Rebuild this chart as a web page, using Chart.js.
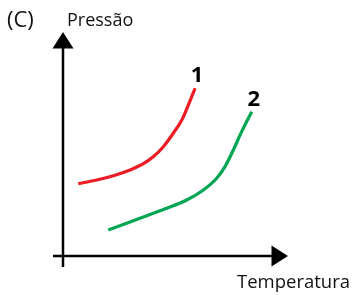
<!DOCTYPE html>
<html><head><meta charset="utf-8">
<script src="https://cdn.jsdelivr.net/npm/chart.js@4/dist/chart.umd.min.js"></script>
<style>html,body{margin:0;padding:0;background:#fff}#wrap{width:353px;height:295px;position:relative}</style>
</head><body><div id="wrap"><canvas id="c" width="353" height="295"></canvas></div>
<script>
// Temperature / pressure values (arbitrary units, origin at axis crossing)
const curve1T = [6.8, 15.0, 22.4, 29.8, 35.7, 40.1, 44.6, 49.0, 52.8, 55.7, 58.7];
const curve1P = [32.3, 33.9, 35.8, 38.4, 41.2, 44.3, 48.8, 54.8, 60.7, 67.4, 74.9];
const curve2T = [20.1, 28.3, 37.2, 46.1, 55.0, 62.4, 68.3, 72.0, 75.7, 79.4, 83.9];
const curve2P = [11.6, 14.6, 18.0, 21.3, 25.0, 29.5, 34.7, 39.9, 47.3, 55.5, 64.4];
const seriesLabels = ['1', '2'];
const xTitle = 'Temperatura';
const yTitle = 'Pressão';
const panelLabel = '(C)';

const FONT = '"Open Sans", "Noto Sans", sans-serif';

const axesPlugin = {
  id: 'axesArrows',
  afterDatasetsDraw(chart) {
    const ctx = chart.ctx, xs = chart.scales.x, ys = chart.scales.y;
    const x0 = xs.getPixelForValue(0), y0 = ys.getPixelForValue(0);
    const xEnd = xs.getPixelForValue(100), yEnd = ys.getPixelForValue(100);
    ctx.save();
    ctx.strokeStyle = '#000'; ctx.fillStyle = '#000'; ctx.lineWidth = 2.5;
    // y axis
    ctx.beginPath(); ctx.moveTo(x0, y0 + 11); ctx.lineTo(x0, yEnd + 14); ctx.stroke();
    ctx.beginPath(); ctx.moveTo(x0, yEnd); ctx.lineTo(x0 - 10.5, yEnd + 16.5); ctx.lineTo(x0 + 10.5, yEnd + 16.5); ctx.closePath(); ctx.fill();
    // x axis
    ctx.beginPath(); ctx.moveTo(x0 - 10, y0); ctx.lineTo(xEnd - 14, y0); ctx.stroke();
    ctx.beginPath(); ctx.moveTo(xEnd, y0); ctx.lineTo(xEnd - 16.5, y0 - 10.5); ctx.lineTo(xEnd - 16.5, y0 + 10.5); ctx.closePath(); ctx.fill();
    // texts
    ctx.textBaseline = 'alphabetic';
    ctx.fillStyle = '#111';
    ctx.font = '22px ' + FONT; ctx.textAlign = 'left';
    ctx.fillText(panelLabel, 7, 27);
    ctx.font = '18px ' + FONT;
    ctx.fillText(yTitle, 67, 26);
    ctx.font = '18.5px ' + FONT;
    ctx.fillText(xTitle, 237, 288);
    // series labels near curve ends
    ctx.fillStyle = '#000';
    ctx.font = 'bold 22px ' + FONT; ctx.textAlign = 'center';
    chart.data.datasets.forEach((ds, i) => {
      const meta = chart.getDatasetMeta(i);
      const last = meta.data[meta.data.length - 1];
      ctx.fillText(seriesLabels[i], last.x + 2, last.y - 6);
    });
    ctx.restore();
  }
};

new Chart(document.getElementById('c'), {
  type: 'line',
  data: {
    datasets: [
      { label: seriesLabels[0], data: curve1T.map((t, i) => ({x: t, y: curve1P[i]})), borderColor: '#ed1c24', borderWidth: 3.2, pointRadius: 0, cubicInterpolationMode: 'monotone', fill: false },
      { label: seriesLabels[1], data: curve2T.map((t, i) => ({x: t, y: curve2P[i]})), borderColor: '#00a651', borderWidth: 3.2, pointRadius: 0, cubicInterpolationMode: 'monotone', fill: false }
    ]
  },
  options: {
    responsive: false, animation: false, devicePixelRatio: 1,
    layout: { padding: { left: 63, right: 65, top: 32, bottom: 39 } },
    scales: {
      x: { type: 'linear', min: 0, max: 100, display: false },
      y: { type: 'linear', min: 0, max: 100, display: false }
    },
    plugins: { legend: { display: false }, tooltip: { enabled: false } }
  },
  plugins: [axesPlugin]
});
</script></body></html>
